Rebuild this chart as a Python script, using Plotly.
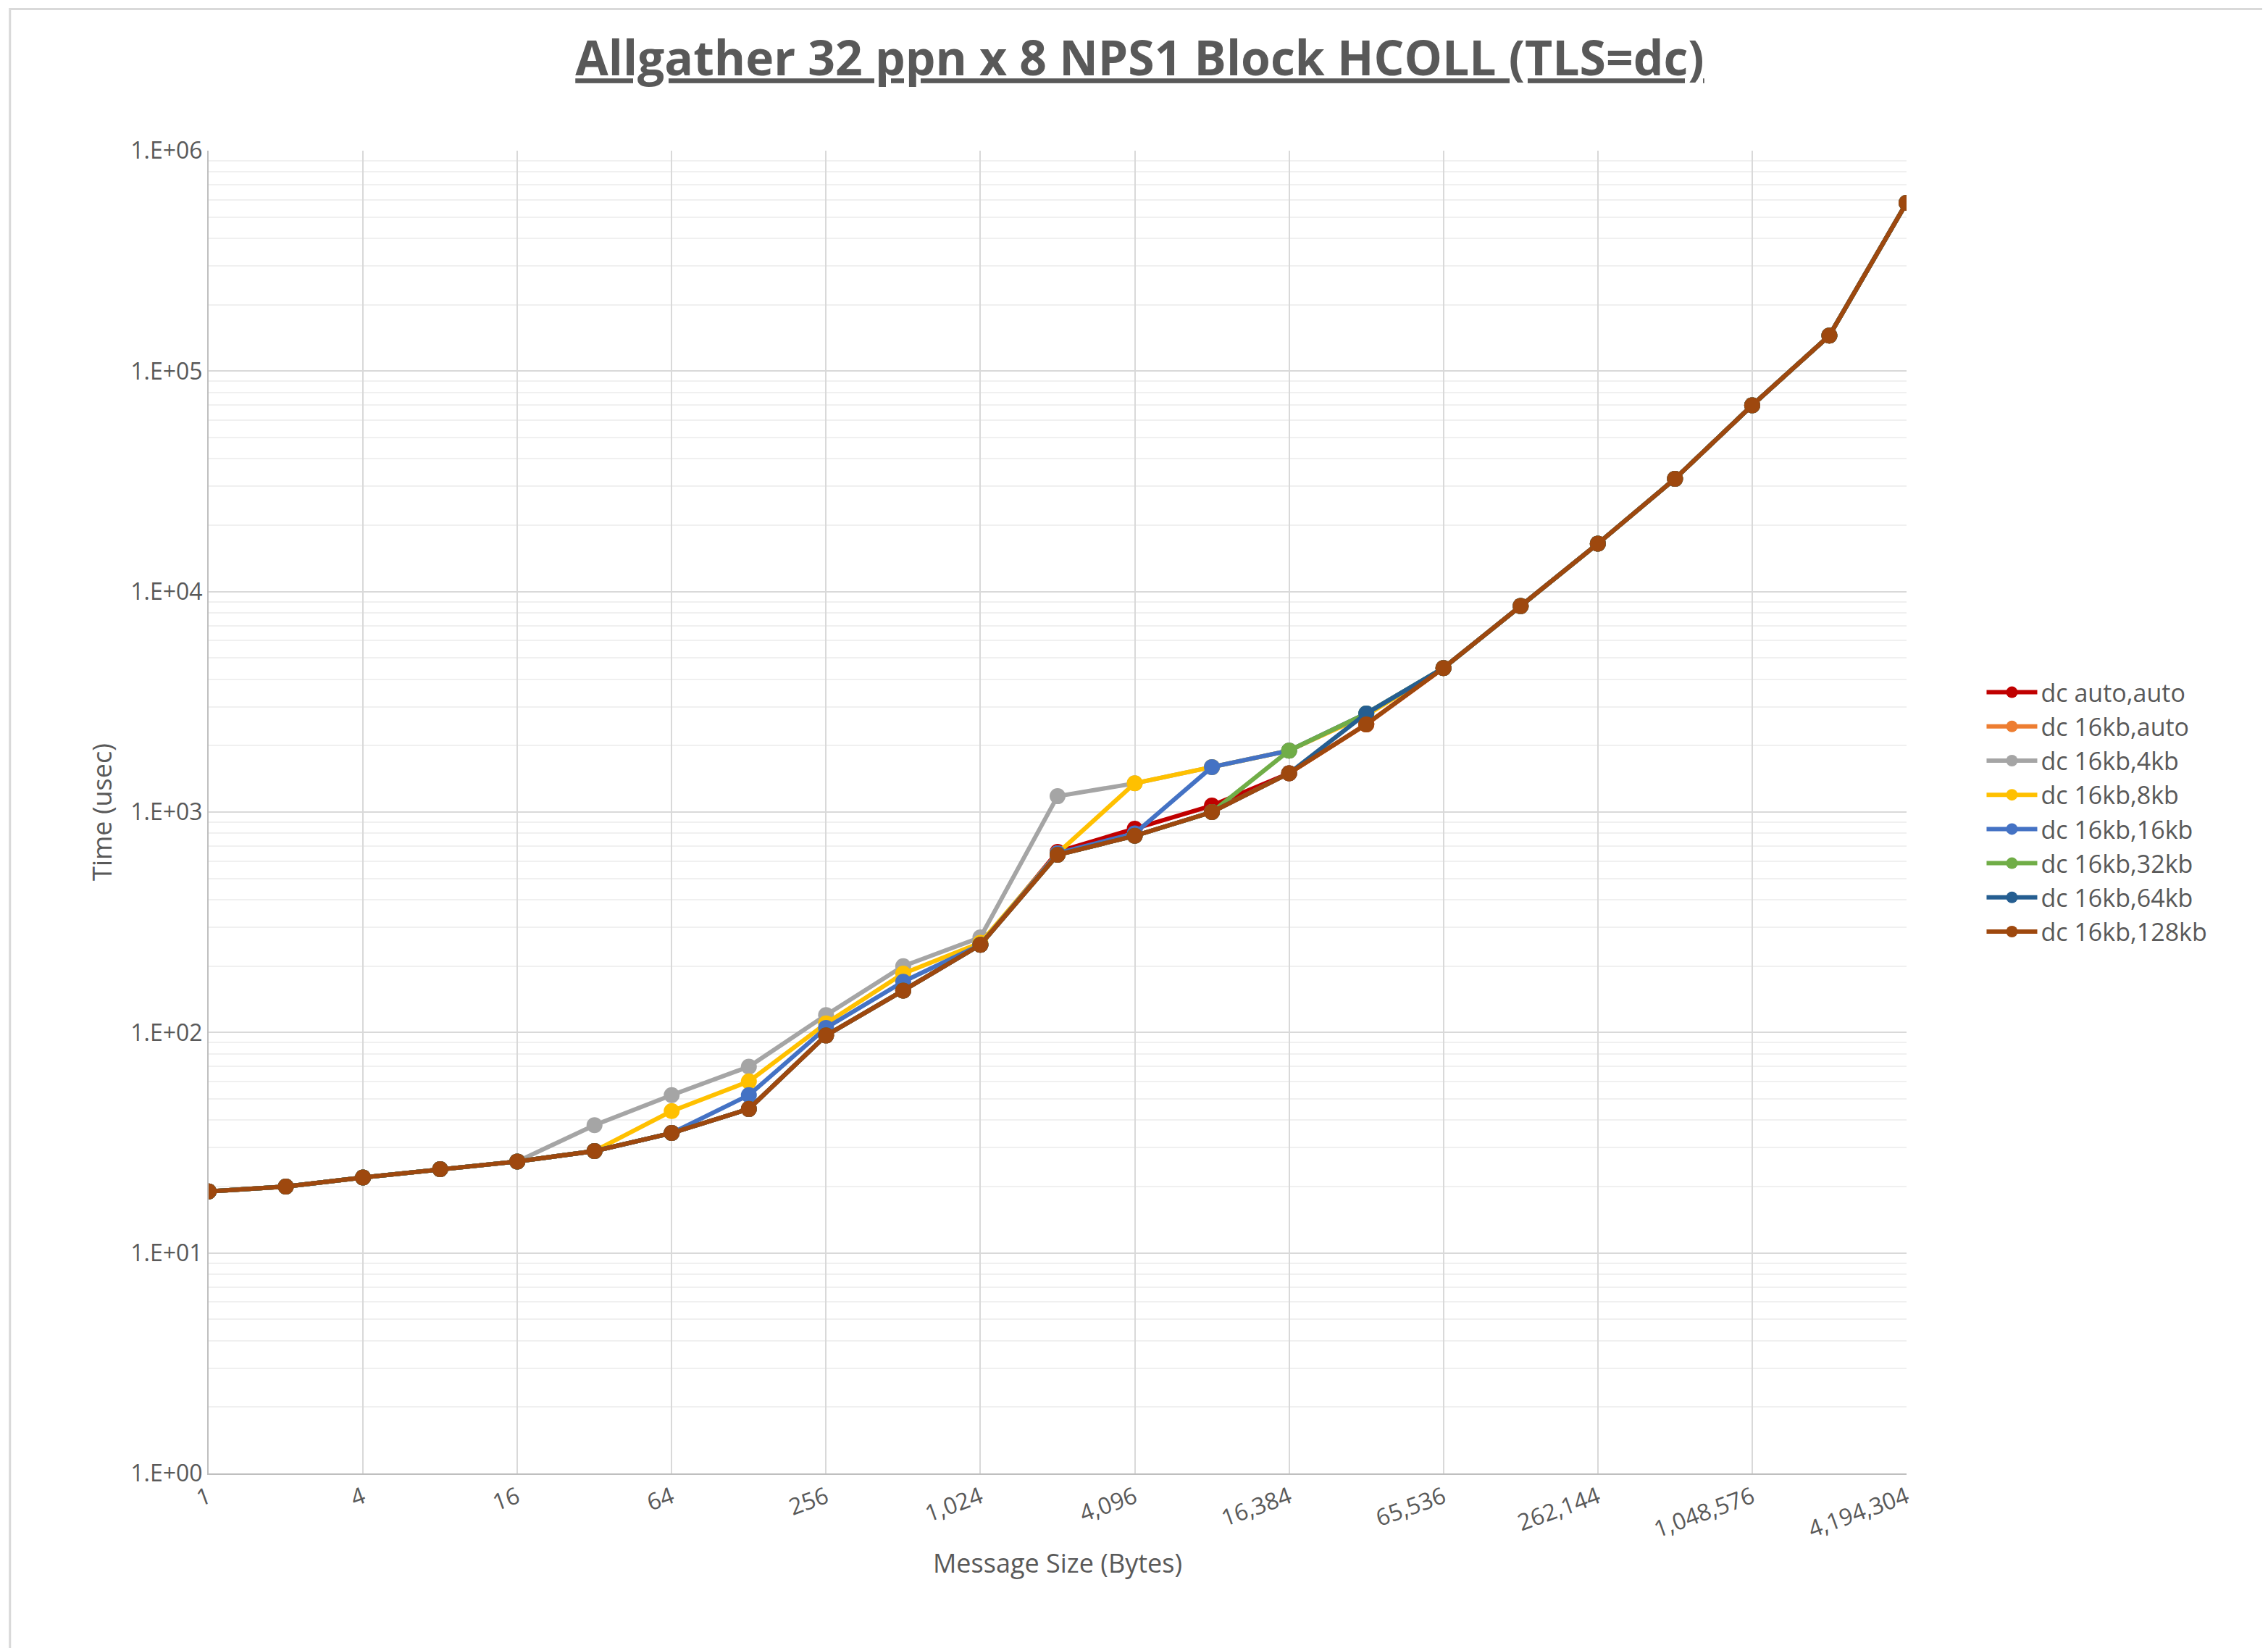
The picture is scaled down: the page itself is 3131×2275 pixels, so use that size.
import plotly.graph_objects as go
import math

sizes = [2**i for i in range(23)]
tick_vals = [4**i for i in range(12)]
tick_text = [f"{v:,}" for v in tick_vals]

base = [19, 20, 22, 24, 26, 29, 35, 45, 97, 155, 250, 640, 780, 1000, 1500, 2500, 4500, 8600, 16500, 32500, 70000, 145000, 580000]
auto_auto = base[:11] + [660, 840, 1070] + base[14:]
kb16_auto = list(base)
kb4 = base[:5] + [38, 52, 70, 120, 200, 270, 1180, 1350, 1600, 1900, 2800] + base[16:]
kb8 = base[:5] + [29, 44, 60, 110, 185, 255, 650, 1350, 1600, 1900, 2750] + base[16:]
kb16 = base[:5] + [29, 35, 52, 105, 170, 250, 650, 800, 1600, 1900, 2800] + base[16:]
kb32 = base[:14] + [1900, 2800] + base[16:]
kb64 = base[:15] + [2800] + base[16:]
kb128 = list(base)

series = [
    ("dc auto,auto", auto_auto, "#C00000"),
    ("dc 16kb,auto", kb16_auto, "#ED7D31"),
    ("dc 16kb,4kb", kb4, "#A5A5A5"),
    ("dc 16kb,8kb", kb8, "#FFC000"),
    ("dc 16kb,16kb", kb16, "#4472C4"),
    ("dc 16kb,32kb", kb32, "#70AD47"),
    ("dc 16kb,64kb", kb64, "#255E91"),
    ("dc 16kb,128kb", kb128, "#9E480E"),
]

fig = go.Figure()
for name, vals, col in series:
    fig.add_trace(go.Scatter(x=sizes, y=vals, name=name, mode="lines+markers",
                             line=dict(color=col, width=6), marker=dict(color=col, size=22)))

font = "Open Sans"
fig.update_layout(
    width=3131, height=2275, paper_bgcolor="white", plot_bgcolor="white",
    margin=dict(l=280, r=507, t=200, b=249),
    font=dict(family=font, color="#595959", size=32),
    title=dict(text="<b><u>Allgather 32 ppn x 8 NPS1 Block HCOLL (TLS=dc)</u></b>", x=0.5, xref="container",
               y=0.978, yanchor="top", font=dict(size=66, color="#595959")),
    legend=dict(x=1.045, y=0.5, yanchor="middle", font=dict(size=34, color="#595959"),
                itemwidth=70),
    showlegend=True,
)
fig.update_xaxes(type="log", range=[0, math.log10(4194304)], tickvals=tick_vals, ticktext=tick_text,
                 tickangle=-20, showgrid=True, gridcolor="#D9D9D9", gridwidth=2,
                 showline=True, linecolor="#BFBFBF", linewidth=2, ticks="", zeroline=False,
                 tickfont=dict(size=32),
                 title=dict(text="Message Size (Bytes)", font=dict(size=36)))
fig.update_yaxes(type="log", range=[0, 6], tickvals=[1, 10, 100, 1000, 10000, 100000, 1000000],
                 ticktext=["1.E+00", "1.E+01", "1.E+02", "1.E+03", "1.E+04", "1.E+05", "1.E+06"],
                 showgrid=True, gridcolor="#D9D9D9", gridwidth=2,
                 minor=dict(dtick="D1", showgrid=True, gridcolor="#F0F0F0", gridwidth=2, ticks=""),
                 showline=True, linecolor="#BFBFBF", linewidth=2, ticks="", zeroline=False,
                 tickfont=dict(size=32),
                 title=dict(text="Time (usec)", font=dict(size=36)))
fig.add_shape(type="rect", xref="paper", yref="paper", x0=-0.117, x1=1.214, y0=-0.133, y1=1.107,
              line=dict(color="#D9D9D9", width=3))
fig.write_html("out.html")
